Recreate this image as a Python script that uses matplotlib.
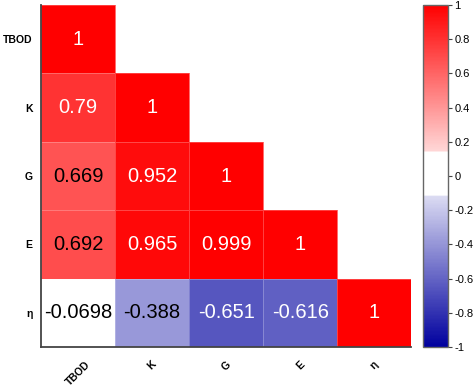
import numpy as np
import matplotlib
matplotlib.use('Agg')
import matplotlib.pyplot as plt
from matplotlib.colors import LinearSegmentedColormap

## variable names and lower-triangle correlation values
labels = ['TBOD', 'K', 'G', 'E', 'η']
row_tbod = [1]
row_k = [0.79, 1]
row_g = [0.669, 0.952, 1]
row_e = [0.692, 0.965, 0.999, 1]
row_eta = [-0.0698, -0.388, -0.651, -0.616, 1]
rows = [row_tbod, row_k, row_g, row_e, row_eta]
cbar_ticks = [-1, -0.8, -0.6, -0.4, -0.2, 0, 0.2, 0.4, 0.6, 0.8, 1]

n = len(labels)
corr = np.full((n, n), np.nan)
for i, r in enumerate(rows):
    corr[i, :len(r)] = r

# blue - white - red with a white band near zero
nodes = [(0.0, (0.0, 0.0, 0.62)),
         (0.44, (0.86, 0.86, 0.95)),
         (0.445, (1, 1, 1)),
         (0.57, (1, 1, 1)),
         (0.575, (1.0, 0.84, 0.84)),
         (1.0, (1.0, 0.0, 0.0))]
cmap = LinearSegmentedColormap.from_list('bwr_custom', nodes, N=256)

fig = plt.figure(figsize=(4.77, 3.86), dpi=100)
ax = fig.add_axes([0.086, 0.101, 0.776, 0.886])
cax = fig.add_axes([0.887, 0.101, 0.052, 0.886])

mesh = ax.pcolormesh(np.ma.masked_invalid(corr), cmap=cmap, vmin=-1, vmax=1,
                     edgecolors=(1, 1, 1, 0.25), linewidth=0.4)
ax.set_xlim(0, n)
ax.set_ylim(n, 0)

white_text = {(0, 0), (1, 0), (1, 1), (2, 1), (2, 2), (3, 1), (3, 2), (3, 3),
              (4, 2), (4, 3), (4, 4)}
for i in range(n):
    for j in range(i + 1):
        v = corr[i, j]
        txt = '1' if v == 1 else str(v)
        col = 'white' if (i, j) in white_text else 'black'
        ax.text(j + 0.5, i + 0.5, txt, ha='center', va='center',
                fontsize=14.5, color=col, family='Liberation Sans')

ax.set_xticks(np.arange(n) + 0.5)
ax.set_yticks(np.arange(n) + 0.5)
ax.set_xticklabels(labels, rotation=45, ha='center', fontsize=7.5,
                   fontweight='bold', family='Liberation Sans')
ax.set_yticklabels(labels, fontsize=7.5, fontweight='bold', family='Liberation Sans')
ax.tick_params(length=0, pad=6)
ax.tick_params(axis='x', pad=9)
for s in ['top', 'right']:
    ax.spines[s].set_visible(False)
for s in ['left', 'bottom']:
    ax.spines[s].set_color('#444444')
    ax.spines[s].set_linewidth(1.3)

cb = fig.colorbar(mesh, cax=cax, ticks=cbar_ticks)
cb.outline.set_edgecolor('#666666')
cb.outline.set_linewidth(1.0)
cb.ax.tick_params(length=3, width=0.8, color='#444444', labelsize=8, pad=1.5)
cb.ax.set_yticklabels([('%g' % t) for t in cbar_ticks], family='Liberation Sans')

fig.savefig('out.png', dpi=100)
